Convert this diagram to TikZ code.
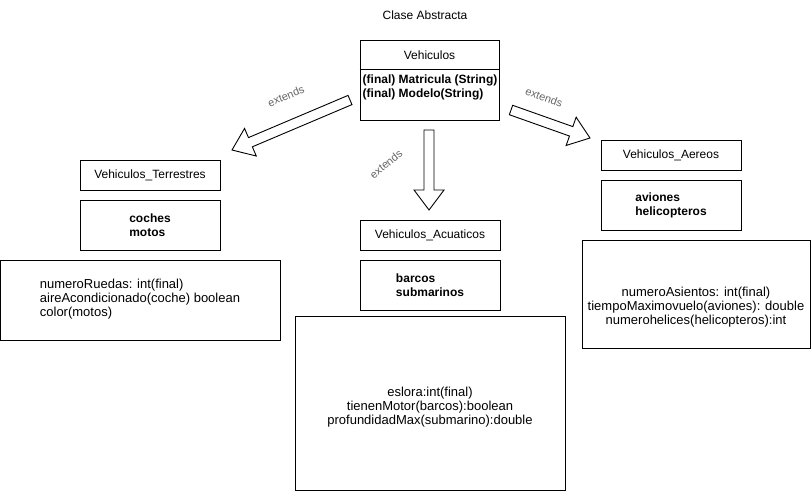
\documentclass[tikz,border=0pt]{standalone}
\usepackage{fontspec}
\setmainfont{Liberation Sans}
\usetikzlibrary{calc}

\tikzset{
    box/.style={draw, line width=0.9pt, inner sep=0pt},
    namebox/.style={box, minimum width=140pt, minimum height=30pt, font=\fontsize{12}{14}\selectfont},
    listbox/.style={box, minimum width=140pt, minimum height=50pt, align=left, font=\fontsize{12}{14}\selectfont\bfseries},
    plaintext/.style={inner sep=0pt, font=\fontsize{12}{14}\selectfont},
    attrtext/.style={inner sep=0pt, font=\fontsize{13}{14}\selectfont},
    extlbl/.style={inner sep=0pt, font=\fontsize{11}{13}\selectfont, text=black!60},
    arrowbody/.style={draw, fill=white, line width=0.9pt, line join=miter}
}

\newcommand{\blockarrow}[2]{%
    \coordinate (cuello) at ($(#2)!20pt!(#1)$);
    \draw[arrowbody] ($(#1)!5pt!90:(#2)$) -- ($(cuello)!5pt!-90:(#1)$) -- ($(cuello)!15pt!-90:(#1)$) -- (#2)
        -- ($(cuello)!15pt!90:(#1)$) -- ($(cuello)!5pt!90:(#1)$) -- ($(#1)!5pt!-90:(#2)$) -- cycle;
}

\begin{document}
\begin{tikzpicture}[x=1pt,y=-1pt]
    \useasboundingbox (0,0) rectangle (811,491);

    \node[plaintext] (titulo) at (425,15) {Clase Abstracta};

    \node[box, minimum width=139pt, minimum height=80pt] (vehiculos) at (429.5,80) {};
    \draw[line width=0.9pt] ([yshift=-30pt]vehiculos.north west) -- ([yshift=-30pt]vehiculos.north east);
    \node[plaintext] (vehiculosnombre) at (429.5,55) {Vehiculos};
    \node[plaintext, anchor=west, align=left, font=\fontsize{12}{14}\selectfont\bfseries] (vehiculosattr) at (362.5,87) {(final) Matricula (String)\\(final) Modelo(String)};

    \node[namebox] (terrestres) at (150,175) {Vehiculos\_Terrestres};
    \node[listbox] (terrestreslista) at (150,225) {coches\\motos};
    \node[box, minimum width=280pt, minimum height=80pt] (terrestresattr) at (140.5,300) {};
    \node[attrtext, align=left] (terrestrestexto) at (140,299) {numeroRuedas: int(final)\\aireAcondicionado(coche) boolean\\color(motos)};

    \node[namebox] (acuaticos) at (430,235) {Vehiculos\_Acuaticos};
    \node[listbox] (acuaticoslista) at (430,285) {barcos\\submarinos};
    \node[box, minimum width=270pt, minimum height=174pt] (acuaticosattr) at (430,403) {};
    \node[attrtext, align=center] (acuaticostexto) at (430,407) {eslora:int(final)\\tienenMotor(barcos):boolean\\profundidadMax(submarino):double};

    \node[namebox] (aereos) at (671,155) {Vehiculos\_Aereos};
    \node[listbox] (aereoslista) at (671,205) {aviones\\helicopteros};
    \node[box, minimum width=228pt, minimum height=108pt] (aereosattr) at (696,294) {};
    \node[attrtext, align=center] (aereostexto) at (696,307) {numeroAsientos: int(final)\\tiempoMaximovuelo(aviones): double\\numerohelices(helicopteros):int};

    \coordinate (colaT) at (350,100);
    \coordinate (puntaT) at (232,150);
    \coordinate (colaA) at (429,130);
    \coordinate (puntaA) at (429,210);
    \coordinate (colaR) at (511,110);
    \coordinate (puntaR) at (590,138);

    \blockarrow{colaT}{puntaT}
    \blockarrow{colaA}{puntaA}
    \blockarrow{colaR}{puntaR}

    \node[extlbl, rotate=23] (extT) at (286,96) {extends};
    \node[extlbl, rotate=40] (extA) at (386,164) {extends};
    \node[extlbl, rotate=-20] (extR) at (544,97) {extends};
\end{tikzpicture}
\end{document}
